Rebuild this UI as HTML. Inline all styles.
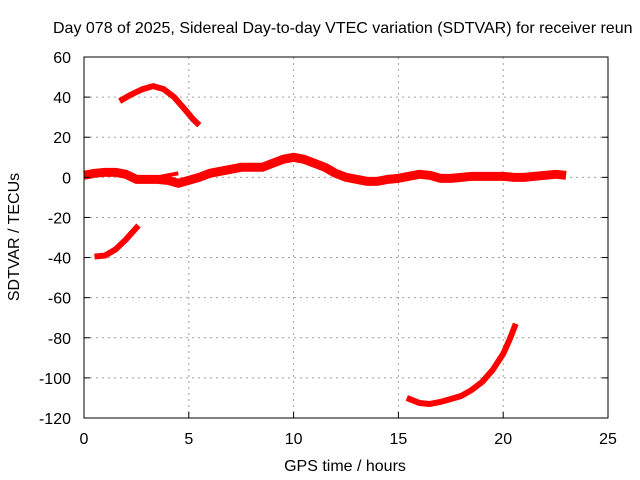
<!DOCTYPE html>
<html><head><meta charset="utf-8"><style>
body{margin:0;background:#fff;}
svg{display:block;font-family:"Liberation Sans",sans-serif;}
</style></head><body>
<svg id="chart" width="640" height="480" viewBox="0 0 640 480">
<text x="53" y="33" font-size="16" fill="#000">Day 078 of 2025, Sidereal Day-to-day VTEC variation (SDTVAR) for receiver reun</text>
<g id="grid"></g>
<g id="series"></g>
<g id="axes"></g>
<text x="345" y="471" font-size="16" text-anchor="middle">GPS time / hours</text>
<text transform="translate(19,237) rotate(-90)" font-size="16" text-anchor="middle">SDTVAR / TECUs</text>
</svg>
<script>
const xTicks=[0,5,10,15,20,25];
const yTicks=[60,40,20,0,-20,-40,-60,-80,-100,-120];
const arcX=[1.7,2.2,2.8,3.3,3.8,4.3,4.8,5.2,5.5];
const arcY=[38,41,44,45.5,44,40,34,29,26];
const lowX=[0.5,1,1.5,2,2.6];
const lowY=[-39.5,-39,-36,-31,-24];
const mainX=[0,0.5,1,1.5,2,2.5,3,3.5,4,4.5,5,5.5,6,6.5,7,7.5,8,8.5,9,9.5,10,10.5,11,11.5,12,12.5,13,13.5,14,14.5,15,15.5,16,16.5,17,17.5,18,18.5,19,19.5,20,20.5,21,21.5,22,22.5,23];
const mainY=[1,2,2.5,2.5,1.5,-1,-1,-1,-1.5,-3,-1.5,0,2,3,4,5,5,5,7,9,10,9,7,5,2,0,-1,-2,-2,-1,-0.5,0.5,1.5,1,-0.5,-0.5,0,0.5,0.5,0.5,0.5,0,0,0.5,1,1.5,1];
const sideX=[3.5,4,4.5];
const sideY=[0,1,2];
const dipX=[15.4,16,16.5,17,17.5,18,18.5,19,19.5,20,20.3,20.6];
const dipY=[-110,-112.5,-113,-112,-110.5,-109,-106,-102,-96,-88,-81,-73];

const X0=84,X1=608,Y0=57,Y1=418;
const sx=v=>X0+(v-0)/25*(X1-X0);
const sy=v=>Y0+(60-v)/180*(Y1-Y0);
const NS="http://www.w3.org/2000/svg";
function mk(tag,attrs,parent){const e=document.createElementNS(NS,tag);for(const k in attrs)e.setAttribute(k,attrs[k]);parent.appendChild(e);return e;}
const grid=document.getElementById('grid'),axes=document.getElementById('axes'),ser=document.getElementById('series');
xTicks.forEach(t=>{
  if(t>0&&t<25){const l=mk('line',{x1:sx(t),x2:sx(t),y1:Y0,y2:Y1,stroke:'#a0a0a0','stroke-dasharray':'2,4'},grid);
  
  }
  const tk=mk('line',{x1:sx(t),x2:sx(t),y1:Y1,y2:Y1-6,stroke:'#000'},axes);
  
  
  const tx=mk('text',{x:sx(t),y:Y1+26,'font-size':'16','text-anchor':'middle'},axes);tx.textContent=t;
  
  
});
yTicks.forEach(t=>{
  if(t<60&&t>-120){const l=mk('line',{x1:X0,x2:X1,y1:sy(t),y2:sy(t),stroke:'#a0a0a0','stroke-dasharray':'2,4'},grid);
  
  }
  const tk=mk('line',{x1:X0,x2:X0+6,y1:sy(t),y2:sy(t),stroke:'#000'},axes);
  
  
  const tk2=mk('line',{x1:X1,x2:X1-6,y1:sy(t),y2:sy(t),stroke:'#000'},axes);
  
  
  const tx=mk('text',{x:X0-13,y:sy(t)+6,'font-size':'16','text-anchor':'end'},axes);tx.textContent=t;
  
  
});
const frame=mk('rect',{x:X0,y:Y0,width:X1-X0,height:Y1-Y0,fill:'none',stroke:'#000'},axes);


function line(xs,ys,w,name){
  const p=mk('polyline',{points:xs.map((x,i)=>sx(x)+','+sy(ys[i])).join(' '),fill:'none',stroke:'#ff0000','stroke-width':w,'stroke-linejoin':'round','stroke-linecap':'butt'},ser);
  
  
}
line(arcX,arcY,6,'series-arc-top');
line(lowX,lowY,6,'series-lower-left');
line(mainX,mainY,9,'series-main');
line(sideX,sideY,4,'series-side');
line(dipX,dipY,6,'series-dip');
</script>
</body></html>
